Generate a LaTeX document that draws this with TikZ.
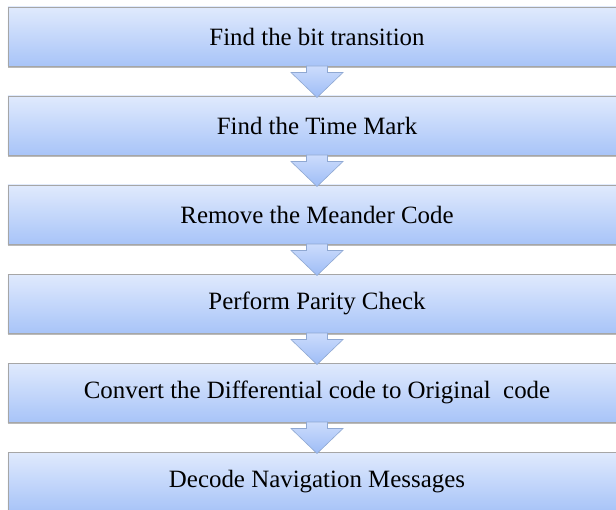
\documentclass[tikz,border=0pt]{standalone}
\usepackage{fontspec}
\setmainfont{Liberation Serif}
\usetikzlibrary{calc,shadows}

\definecolor{boxtop}{HTML}{E0EAFD}
\definecolor{boxbot}{HTML}{A8C4F8}
\definecolor{boxline}{HTML}{A6A6A6}
\definecolor{arrtop}{HTML}{CCDCFC}
\definecolor{arrbot}{HTML}{9EBDF6}
\definecolor{arrline}{HTML}{8FA8D2}

\tikzset{
  stepbox/.style={
    draw=boxline, line width=0.6bp,
    top color=boxtop, bottom color=boxbot,
    minimum width=618bp, minimum height=59bp,
    inner sep=0pt, outer sep=0pt,
    font=\fontsize{25}{28}\selectfont,
    drop shadow={shadow xshift=0bp, shadow yshift=-2bp, opacity=0.45, fill=black!60}
  },
  flowarrow/.style={
    draw=arrline, line width=0.6bp,
    top color=arrtop, bottom color=arrbot
  }
}

% block arrow from the bottom of one step to the top of the next
\newcommand{\stepflow}[2]{%
  \path[flowarrow]
    ($(#1.south)+(-10.5,0)$) -- ($(#1.south)+(-10.5,6.5)$) --
    ($(#1.south)+(-26,6.5)$) -- ($(#2.north)+(0,1.5)$) --
    ($(#1.south)+(26,6.5)$) -- ($(#1.south)+(10.5,6.5)$) --
    ($(#1.south)+(10.5,0)$) -- cycle;%
}

\begin{document}
\begin{tikzpicture}[x=1bp,y=-1bp]
  \useasboundingbox (0,0) rectangle (616,510);
  \clip (0,0) rectangle (616,510);

  \node[stepbox] (s1) at (317,36.5)  {Find the bit transition};
  \node[stepbox] (s2) at (317,125.5) {Find the Time Mark};
  \node[stepbox] (s3) at (317,214.5) {Remove the Meander Code};
  \node[stepbox] (s4) at (317,303.5) {Perform Parity Check};
  \node[stepbox] (s5) at (317,392.5) {Convert the Differential code to Original~ code};
  \node[stepbox] (s6) at (317,481.5) {Decode Navigation Messages};

  \stepflow{s1}{s2}
  \stepflow{s2}{s3}
  \stepflow{s3}{s4}
  \stepflow{s4}{s5}
  \stepflow{s5}{s6}
\end{tikzpicture}
\end{document}
